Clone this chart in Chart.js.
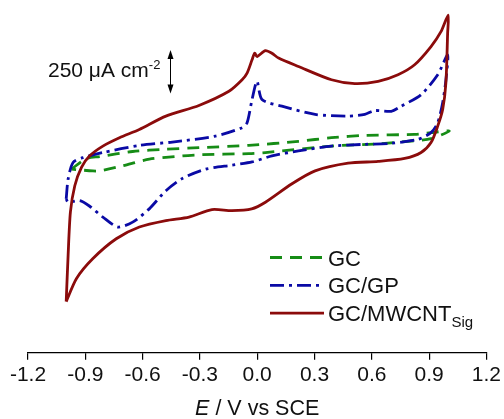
<!DOCTYPE html>
<html lang="en">
<head>
<meta charset="UTF-8">
<title>CV - GC, GC/GP, GC/MWCNT</title>
<script src="https://cdn.jsdelivr.net/npm/chart.js@4"></script>
<style>
  html, body { margin: 0; padding: 0; background: #fff; }
  #wrap { width: 504px; height: 419px; }
</style>
</head>
<body>
<div id="wrap"><canvas id="cv"></canvas></div>
<script>
// potential axis (V vs SCE)
const potTicks = [-1.2, -0.9, -0.6, -0.3, 0.0, 0.3, 0.6, 0.9, 1.2];

// current density in uA cm-2 (offset arbitrary)
const gcE = [-0.973, -0.894, -0.825, -0.652, -0.478, -0.305, -0.044, 0.216, 0.389, 0.563, 0.824, 0.91, 1.006,
             0.91, 0.806, 0.633, 0.389, 0.043, -0.044, -0.305, -0.392, -0.565, -0.704, -0.825, -0.86, -0.973];
const gcJ = [0, 61, 72, 101, 114, 123, 136, 159, 180, 193, 199, 209, 218,
             174, 161, 145, 132, 95, 89, 82, 76, 57, 19, -10, -10, 0];

const gpE = [-1.0, -0.99, -0.964, -0.912, -0.808, -0.617, -0.444, -0.218, -0.079, -0.053, -0.027, -0.001, 0.025,
             0.129, 0.303, 0.476, 0.563, 0.615, 0.702, 0.754, 0.858, 0.945, 0.997,
             0.988, 0.971, 0.945, 0.91, 0.841, 0.702, 0.563, 0.389, 0.216, 0.077, -0.027, -0.131, -0.27,
             -0.392, -0.478, -0.565, -0.652, -0.73, -0.808, -0.877, -0.929, -0.99, -1.0];
const gpJ = [-170, -57, 38, 66, 95, 136, 155, 189, 237, 265, 398, 502, 398,
             360, 313, 303, 313, 335, 331, 360, 426, 540, 653,
             511, 379, 265, 209, 170, 148, 142, 132, 104, 76, 41, 23, 0,
             -53, -123, -227, -303, -331, -274, -212, -180, -189, -170];

const cntE = [-1.0, -0.99, -0.978, -0.955, -0.92, -0.877, -0.808, -0.721, -0.617, -0.478, -0.305, -0.148,
              -0.079, -0.053, -0.027, -0.013, -0.001, 0.043, 0.077, 0.112, 0.216, 0.389, 0.511, 0.633,
              0.737, 0.824, 0.91, 0.962, 1.0,
              0.997, 0.988, 0.971, 0.945, 0.91, 0.858, 0.772, 0.633, 0.476, 0.303, 0.18, 0.043, -0.029,
              -0.133, -0.237, -0.357, -0.478, -0.617, -0.738, -0.86, -0.946, -1.0];
const cntJ = [-757, -493, -246, -95, 10, 76, 132, 180, 227, 303, 364, 445,
              511, 549, 625, 663, 644, 678, 663, 635, 587, 511, 489, 502,
              540, 597, 701, 786, 881,
              778, 494, 341, 246, 152, 95, 61, 44, 34, -10, -85, -189, -227,
              -237, -231, -274, -294, -331, -398, -511, -625, -757];

const legendNames = [['GC', ''], ['GC/GP', ''], ['GC/MWCNT', 'Sig']];
const scaleBarValue = 250;

function pairs(xs, ys) {
    return xs.map((x, i) => ({ x: x, y: ys[i] }));
}

const FONT = '"Liberation Sans", Arial, Helvetica, sans-serif';

// scale bar, legend and axis title drawn by hand (superscript / subscript / italic)
const extras = {
    id: 'extras',
    afterDraw(chart) {
        const ctx = chart.ctx;
        const ys = chart.scales.y;
        const area = chart.chartArea;
        ctx.save();
        ctx.fillStyle = '#111';
        ctx.textBaseline = 'alphabetic';

        // scale bar
        ctx.font = '21px ' + FONT;
        ctx.textAlign = 'left';
        ctx.fillText('250 \u03bcA cm', 48, 77);
        const w = ctx.measureText('250 \u03bcA cm').width;
        ctx.font = '13px ' + FONT;
        ctx.fillText('-2', 48 + w, 69);

        const ax = 170.5;
        const yTop = ys.getPixelForValue(682);
        const yBot = ys.getPixelForValue(682 - scaleBarValue);
        ctx.strokeStyle = '#000';
        ctx.lineWidth = 1;
        ctx.beginPath();
        ctx.moveTo(ax, yTop + 4);
        ctx.lineTo(ax, yBot - 4);
        ctx.stroke();
        ctx.fillStyle = '#000';
        ctx.beginPath();
        ctx.moveTo(ax, yTop);
        ctx.lineTo(ax - 3, yTop + 9);
        ctx.lineTo(ax + 3, yTop + 9);
        ctx.closePath();
        ctx.fill();
        ctx.beginPath();
        ctx.moveTo(ax, yBot);
        ctx.lineTo(ax - 3, yBot - 9);
        ctx.lineTo(ax + 3, yBot - 9);
        ctx.closePath();
        ctx.fill();

        // legend
        chart.data.datasets.forEach((ds, i) => {
            const cy = 257.5 + i * 27.8;
            ctx.strokeStyle = ds.borderColor;
            ctx.lineWidth = ds.borderWidth;
            ctx.setLineDash(ds.borderDash || []);
            ctx.beginPath();
            ctx.moveTo(270, cy);
            ctx.lineTo(324, cy);
            ctx.stroke();
            ctx.setLineDash([]);
            ctx.fillStyle = '#111';
            ctx.font = '22px ' + FONT;
            ctx.fillText(legendNames[i][0], 328, cy + 8);
            if (legendNames[i][1]) {
                const mw = ctx.measureText(legendNames[i][0]).width;
                ctx.font = '15px ' + FONT;
                ctx.fillText(legendNames[i][1], 328 + mw, cy + 14);
            }
        });

        // x axis title: E / V vs SCE
        ctx.font = 'italic 21.5px ' + FONT;
        const wE = ctx.measureText('E').width;
        ctx.font = '21.5px ' + FONT;
        const rest = ' / V vs SCE';
        const wR = ctx.measureText(rest).width;
        const cx = (area.left + area.right) / 2;
        const x0 = cx - (wE + wR) / 2;
        ctx.font = 'italic 21.5px ' + FONT;
        ctx.fillText('E', x0, 415);
        ctx.font = '21.5px ' + FONT;
        ctx.fillText(rest, x0 + wE, 415);
        ctx.restore();
    }
};

const ctx = document.getElementById('cv').getContext('2d');
new Chart(ctx, {
    type: 'scatter',
    data: {
        datasets: [
            {
                label: 'GC',
                data: pairs(gcE, gcJ),
                borderColor: '#168c16',
                borderWidth: 2.8,
                borderDash: [12, 8],
                order: 2
            },
            {
                label: 'GC/GP',
                data: pairs(gpE, gpJ),
                borderColor: '#0a0aa5',
                borderWidth: 2.8,
                borderDash: [14, 5, 3, 5],
                order: 1
            },
            {
                label: 'GC/MWCNT',
                data: pairs(cntE, cntJ),
                borderColor: '#8b0b0b',
                borderWidth: 2.8,
                order: 0
            }
        ]
    },
    options: {
        responsive: true,
        maintainAspectRatio: false,
        animation: false,
        devicePixelRatio: 1,
        showLine: true,
        layout: { padding: { left: 28, right: 15, top: 10, bottom: 28 } },
        elements: {
            point: { radius: 0, hoverRadius: 0 },
            line: { tension: 0.25, fill: false, borderCapStyle: 'butt' }
        },
        plugins: {
            legend: { display: false },
            tooltip: { enabled: false }
        },
        scales: {
            x: {
                type: 'linear',
                min: -1.2,
                max: 1.2,
                afterBuildTicks: (scale) => { scale.ticks = potTicks.map(v => ({ value: v })); },
                ticks: {
                    padding: 3,
                    color: '#111',
                    font: { family: FONT, size: 21 },
                    maxRotation: 0,
                    callback: (v) => v.toFixed(1)
                },
                grid: {
                    drawOnChartArea: false,
                    drawTicks: true,
                    tickLength: 7,
                    color: '#000',
                    lineWidth: 1.2
                },
                border: { display: true, color: '#000', width: 1.2 }
            },
            y: {
                type: 'linear',
                display: false,
                min: -1050,
                max: 910
            }
        }
    },
    plugins: [extras]
});
</script>
</body>
</html>
